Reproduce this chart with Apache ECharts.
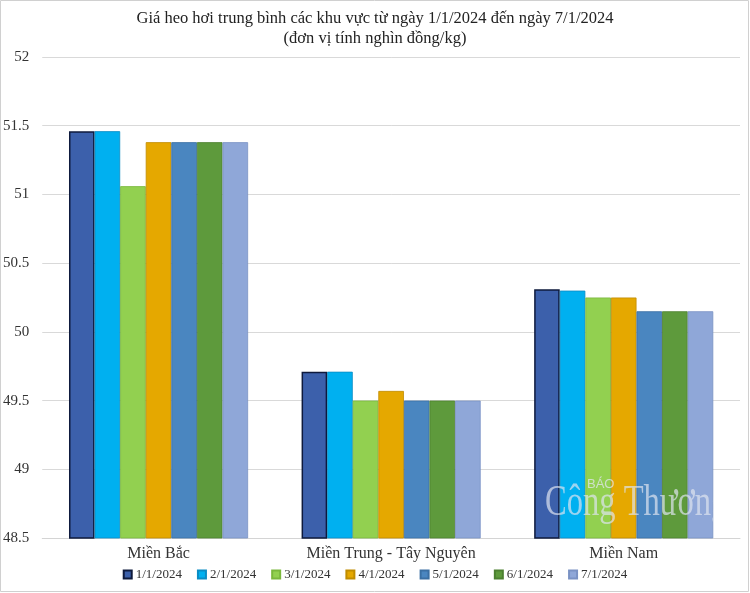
<!DOCTYPE html>
<html>
<head>
<meta charset="utf-8">
<script src="https://cdn.jsdelivr.net/npm/echarts@6/dist/echarts.min.js"></script>
<style>
html,body{margin:0;padding:0;background:#fff;}
#c{width:750px;height:593px;}
</style>
</head>
<body>
<div id="c"></div>
<script>
const categories = ['Miền Bắc', 'Miền Trung - Tây Nguyên', 'Miền Nam'];
const seriesNames = ['1/1/2024', '2/1/2024', '3/1/2024', '4/1/2024', '5/1/2024', '6/1/2024', '7/1/2024'];
const d1 = [51.46, 49.71, 50.31];
const d2 = [51.46, 49.71, 50.30];
const d3 = [51.06, 49.50, 50.25];
const d4 = [51.38, 49.57, 50.25];
const d5 = [51.38, 49.50, 50.15];
const d6 = [51.38, 49.50, 50.15];
const d7 = [51.38, 49.50, 50.15];
const seriesData = [d1, d2, d3, d4, d5, d6, d7];
const colors = ['#3c60ab', '#00b0f0', '#92d050', '#e5a800', '#4a86c0', '#5e9a3c', '#8fa7d8'];
const borders = ['#0e1a3d', '#0a8cc4', '#7ab83c', '#c08c00', '#3a6fa3', '#4c8030', '#7a92c4'];
const serif = '"Liberation Serif", "Times New Roman", serif';

const chart = echarts.init(document.getElementById('c'));
chart.setOption({
  animation: false,
  color: colors,
  title: {
    text: 'Giá heo hơi trung bình các khu vực từ ngày 1/1/2024 đến ngày 7/1/2024\n(đơn vị tính nghìn đồng/kg)',
    left: 'center',
    top: 4,
    textStyle: { fontFamily: serif, fontSize: 16.5, fontWeight: 'normal', color: '#222', lineHeight: 20 }
  },
  legend: {
    bottom: 7,
    left: 'center',
    icon: 'rect',
    itemWidth: 8,
    itemHeight: 8,
    itemGap: 15,
    textStyle: { fontFamily: serif, fontSize: 13, color: '#333', padding: [0, 0, 0, -1] },
    data: seriesNames
  },
  grid: { left: 42, right: 10, top: 57, bottom: 55 },
  xAxis: {
    type: 'category',
    data: categories,
    axisLine: { show: true, lineStyle: { color: '#d4d4d4', width: 1 } },
    axisTick: { show: false },
    axisLabel: { fontFamily: serif, fontSize: 16, color: '#333', margin: 8 }
  },
  yAxis: {
    type: 'value',
    min: 48.5,
    max: 52,
    interval: 0.5,
    axisLine: { show: false },
    axisTick: { show: false },
    axisLabel: { fontFamily: serif, fontSize: 15, color: '#333', margin: 13 },
    splitLine: { lineStyle: { color: '#d9d9d9', width: 1 } }
  },
  series: seriesNames.map((n, i) => ({
    name: n,
    type: 'bar',
    data: seriesData[i],
    barGap: '0%',
    barCategoryGap: '23%',
    itemStyle: { color: colors[i], borderColor: borders[i], borderWidth: i === 0 ? 1.5 : 0.8 }
  })),
  graphic: [
    {
      type: 'text', x: 587, y: 478, z: 100, silent: true,
      style: { text: 'BÁO', x: 0, y: 0, font: '13px "Liberation Sans", sans-serif', fill: 'rgba(225,230,240,0.75)' }
    },
    {
      type: 'text', x: 545, y: 481, scaleX: 0.74, z: 100, silent: true,
      style: { text: 'Công Thương', x: 0, y: 0, font: '44px "Liberation Serif", serif', fill: 'rgba(222,228,240,0.7)' }
    },
    {
      type: 'rect', z: 101, silent: true, shape: { x: 714, y: 470, width: 30, height: 60 },
      style: { fill: '#fff' }
    },
    {
      type: 'rect', z: 100, shape: { x: 0.5, y: 0.5, width: 748, height: 591 },
      style: { fill: 'none', stroke: '#d0d0d0', lineWidth: 1 }, silent: true
    }
  ]
});
</script>
</body>
</html>
